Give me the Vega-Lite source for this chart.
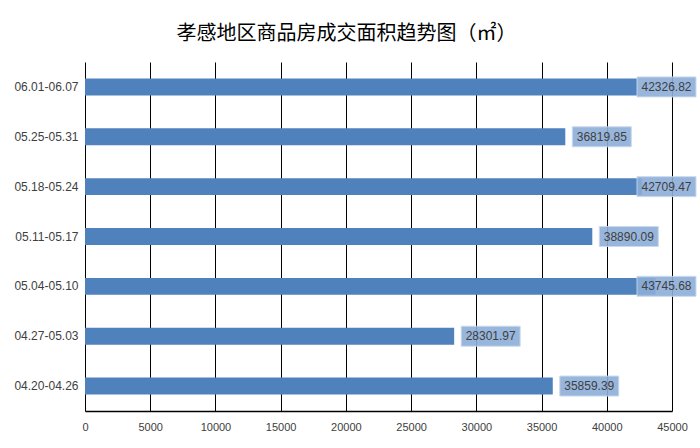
{
  "$schema": "https://vega.github.io/schema/vega-lite/v6.json",
  "autosize": "none",
  "width": 587,
  "height": 349,
  "padding": {"left": 85, "top": 62, "right": 28, "bottom": 37},
  "background": "white",
  "title": {
    "text": "孝感地区商品房成交面积趋势图（㎡）",
    "font": "Noto Sans CJK SC",
    "fontSize": 20,
    "fontWeight": "normal",
    "color": "#000000",
    "anchor": "middle",
    "frame": "group",
    "dx": -32,
    "offset": 18
  },
  "data": {
    "values": [
      {"week": "06.01-06.07", "area": 42326.82},
      {"week": "05.25-05.31", "area": 36819.85},
      {"week": "05.18-05.24", "area": 42709.47},
      {"week": "05.11-05.17", "area": 38890.09},
      {"week": "05.04-05.10", "area": 43745.68},
      {"week": "04.27-05.03", "area": 28301.97},
      {"week": "04.20-04.26", "area": 35859.39}
    ]
  },
  "transform": [
    {"calculate": "min(datum.area, 41780)", "as": "labelPos"}
  ],
  "encoding": {
    "y": {
      "field": "week",
      "type": "nominal",
      "sort": null,
      "scale": {"paddingInner": 0.66, "paddingOuter": 0.33},
      "axis": {
        "title": null,
        "domain": false,
        "ticks": false,
        "labelFont": "Liberation Sans",
        "labelFontSize": 12,
        "labelColor": "#404040",
        "labelPadding": 7
      }
    }
  },
  "layer": [
    {
      "mark": {"type": "bar", "color": "#4F81BD"},
      "encoding": {
        "x": {
          "field": "area",
          "type": "quantitative",
          "scale": {"domain": [0, 45000], "nice": false},
          "axis": {
            "title": null,
            "values": [0, 5000, 10000, 15000, 20000, 25000, 30000, 35000, 40000, 45000],
            "format": "d",
            "grid": true,
            "gridColor": "#000000",
            "gridOpacity": 1,
            "gridWidth": 1,
            "domain": true,
            "domainColor": "#000000",
            "domainWidth": 1.5,
            "ticks": false,
            "labelFont": "Liberation Sans",
            "labelFontSize": 11,
            "labelColor": "#404040",
            "labelPadding": 10,
            "labelFlush": false
          }
        }
      }
    },
    {
      "mark": {"type": "rect", "color": "#8DAFD9", "opacity": 0.9, "stroke": "#C6D6EC", "strokeWidth": 1, "xOffset": 7, "x2Offset": 66, "height": 20},
      "encoding": {
        "x": {"field": "labelPos", "type": "quantitative"},
        "x2": {"field": "labelPos"}
      }
    },
    {
      "mark": {"type": "text", "align": "center", "baseline": "middle", "dx": 36.5, "font": "Liberation Sans", "fontSize": 12, "color": "#404040"},
      "encoding": {
        "x": {"field": "labelPos", "type": "quantitative"},
        "text": {"field": "area", "type": "quantitative", "format": ".2f"}
      }
    }
  ],
  "config": {
    "view": {"stroke": null}
  }
}
